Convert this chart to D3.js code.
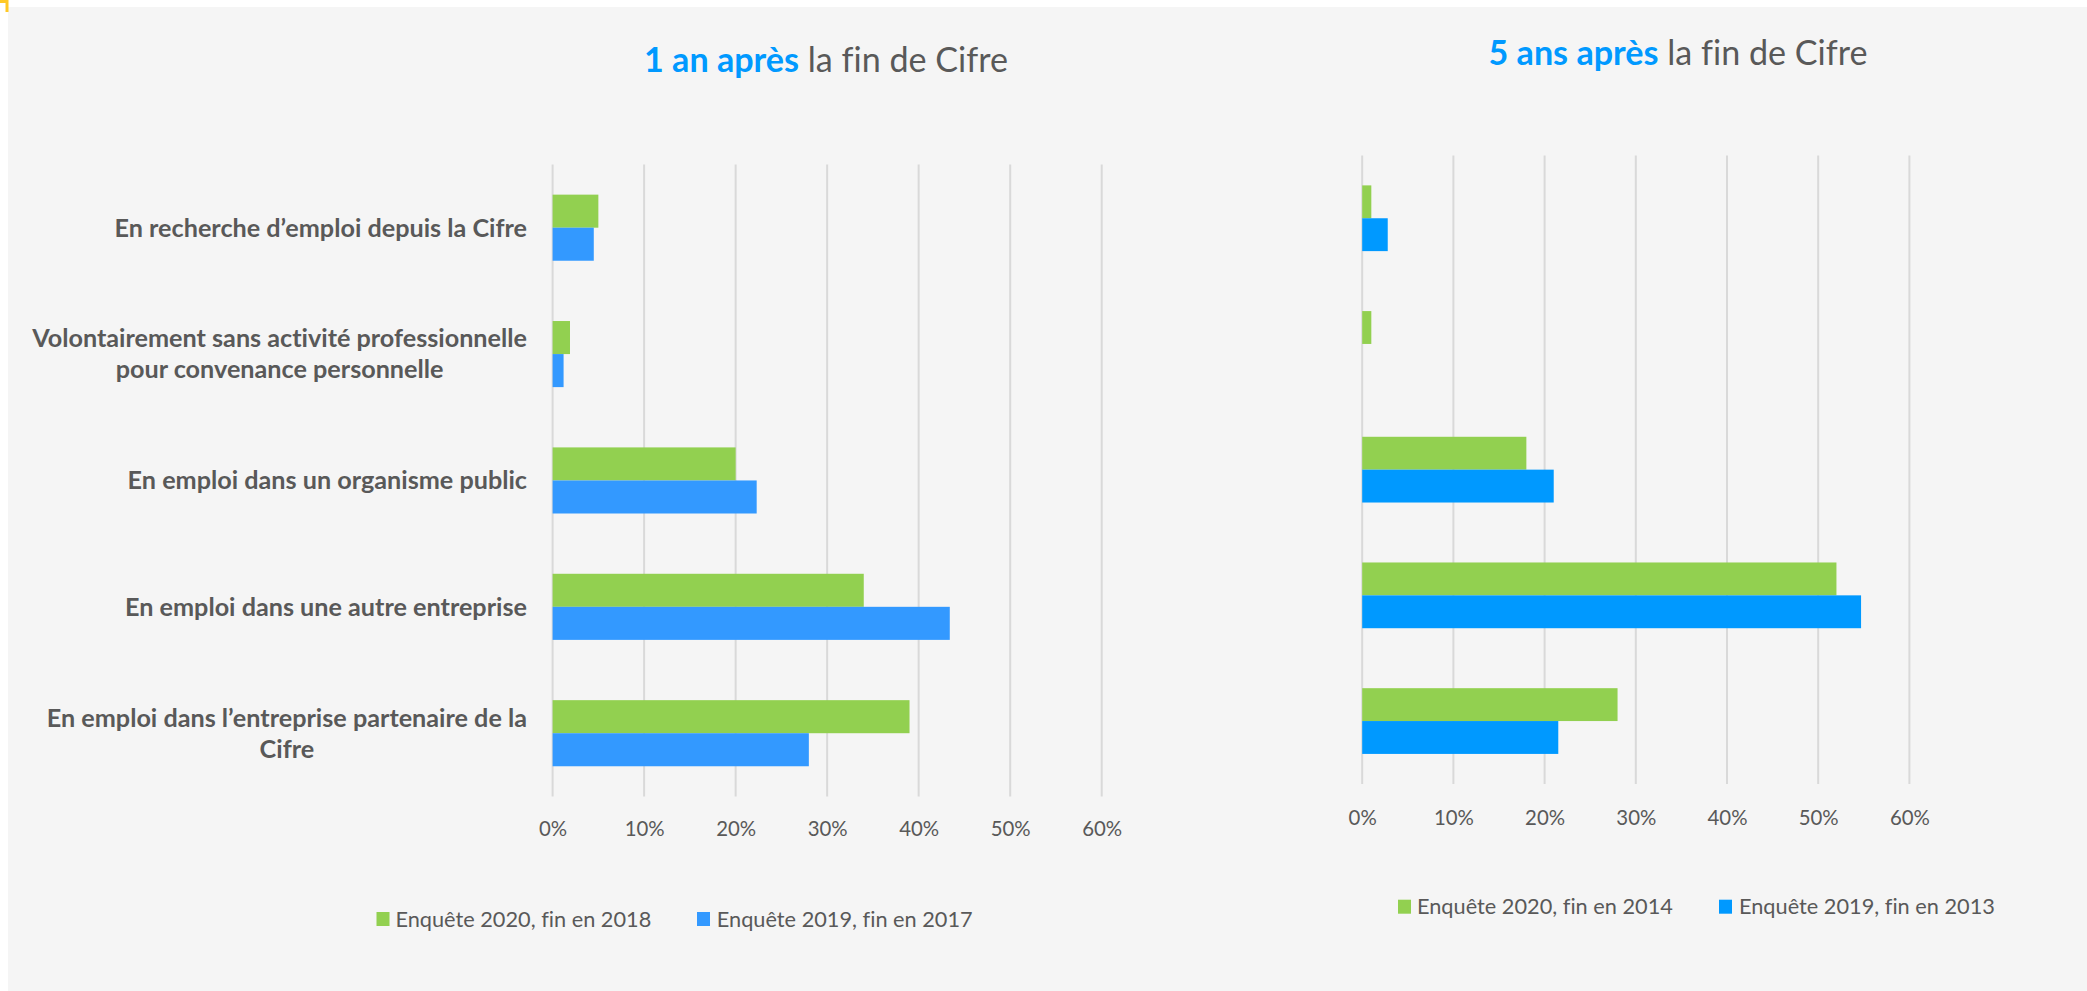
<!DOCTYPE html>
<html>
<head>
<meta charset="utf-8">
<script src="https://cdn.jsdelivr.net/npm/d3@7"></script>
<style>
  html, body { margin: 0; padding: 0; background: #ffffff; }
  svg { display: block; }
  text { font-variant-ligatures: none; font-feature-settings: "liga" 0, "clig" 0; }
</style>
</head>
<body>
<svg id="chart" width="2087" height="991"></svg>
<script>
// ---------------- DATA ----------------
const categories = [
  "En recherche d’emploi depuis la Cifre",
  "Volontairement sans activité professionnelle\npour convenance personnelle",
  "En emploi dans un organisme public",
  "En emploi dans une autre entreprise",
  "En emploi dans l’entreprise partenaire de la\nCifre"
];
// 1 an après (percent)
const oneYear2020 = [5.0, 1.9, 20.0, 34.0, 39.0];
const oneYear2019 = [4.5, 1.2, 22.3, 43.4, 28.0];
// 5 ans après (percent)
const fiveYear2020 = [1.0, 1.0, 18.0, 52.0, 28.0];
const fiveYear2019 = [2.8, 0.0, 21.0, 54.7, 21.5];
const tickValues = [0, 10, 20, 30, 40, 50, 60];
const oneYearSeries = ["Enquête 2020, fin en 2018", "Enquête 2019, fin en 2017"];
const fiveYearSeries = ["Enquête 2020, fin en 2014", "Enquête 2019, fin en 2013"];
const titleLeft = ["1 an après", " la fin de Cifre"];
const titleRight = ["5 ans après", " la fin de Cifre"];

// ---------------- STYLE ----------------
const FONT = "Lato, 'Open Sans', sans-serif";
const GRAY = "#595959";
const GREEN = "#92D050";
const BLUE_L = "#3399FF";
const BLUE_R = "#0099FF";
const TITLE_BLUE = "#0099FF";
const GRID = "#D9D9D9";
const BG = "#F5F5F5";

const svg = d3.select("#chart");

// background
svg.append("rect").attr("x", 8).attr("y", 7).attr("width", 2087 - 8).attr("height", 991 - 7).attr("fill", BG);
svg.append("path").attr("d", "M0,0H8.5V12H5.5V3H0Z").attr("fill", "#FFC926");

function measure(build, size) {
  const t = svg.append("text").attr("font-family", FONT).attr("font-size", size);
  build(t);
  const w = t.node().getComputedTextLength();
  t.remove();
  return w;
}
function fitSize(build, target) {
  return 100 * target / measure(build, 100);
}

const titleBuild = parts => t => {
  t.append("tspan").attr("font-weight", "bold").text(parts[0]);
  t.append("tspan").text(parts[1]);
};
const titleSize = fitSize(titleBuild(titleLeft), 364);
const labelSize = fitSize(t => t.attr("font-weight", "bold").text("Volontairement sans activité professionnelle"), 495);
const tickSize = fitSize(t => t.text("10%"), 40);
const legendSize = fitSize(t => t.text(oneYearSeries[0]), 256);

function drawTitle(parts, x, baseline) {
  const t = svg.append("text").attr("x", x).attr("y", baseline)
    .attr("font-family", FONT).attr("font-size", titleSize).attr("fill", GRAY);
  t.append("tspan").attr("font-weight", "bold").attr("fill", TITLE_BLUE).text(parts[0]);
  t.append("tspan").text(parts[1]);
}

function drawPanel(opts) {
  const { xRange, yRange, s2020, s2019, blue, tickY, showLabels, labelRight } = opts;
  const g = svg.append("g");
  const x = d3.scaleLinear().domain([0, 60]).range(xRange);
  const y = d3.scaleBand().domain(d3.range(categories.length)).range(yRange)
    .paddingInner(0.477).paddingOuter(0.2385);
  const sub = d3.scaleBand().domain([0, 1]).range([0, y.bandwidth()]);

  // gridlines
  g.append("g").selectAll("line").data(tickValues).join("line")
    .attr("x1", d => x(d)).attr("x2", d => x(d))
    .attr("y1", yRange[0]).attr("y2", yRange[1])
    .attr("stroke", GRID).attr("stroke-width", 2);

  // axis tick labels
  const axis = d3.axisBottom(x).tickValues(tickValues).tickFormat(d => d + "%").tickSize(0).tickPadding(0);
  const ax = g.append("g").attr("transform", `translate(0,${tickY})`).call(axis);
  ax.select(".domain").remove();
  ax.selectAll("text").attr("font-family", FONT).attr("font-size", tickSize)
    .attr("fill", GRAY).attr("dy", "0.35em").attr("y", 0);

  // bars
  const series = [{ vals: s2020, color: GREEN }, { vals: s2019, color: blue }];
  series.forEach((s, si) => {
    g.append("g").selectAll("rect").data(s.vals).join("rect")
      .attr("x", x(0))
      .attr("y", (d, i) => y(i) + sub(si))
      .attr("width", d => x(d) - x(0))
      .attr("height", sub.bandwidth())
      .attr("fill", s.color);
  });

  // category labels
  if (showLabels) {
    categories.forEach((c, i) => {
      const lines = c.split("\n");
      const widths = lines.map(l => measure(t => t.attr("font-weight", "bold").text(l), labelSize));
      const maxW = d3.max(widths);
      const cx = labelRight - maxW / 2;
      const cy = y(i) + y.bandwidth() / 2;
      const lh = 31;
      lines.forEach((l, li) => {
        svg.append("text")
          .attr("x", cx)
          .attr("y", cy + (li - (lines.length - 1) / 2) * lh)
          .attr("dy", "0.35em")
          .attr("text-anchor", "middle")
          .attr("font-family", FONT).attr("font-weight", "bold")
          .attr("font-size", labelSize).attr("fill", GRAY)
          .text(l);
      });
    });
  }
}

function drawLegend(names, blue, items, cy) {
  const colors = [GREEN, blue];
  names.forEach((n, i) => {
    svg.append("rect").attr("x", items[i][0]).attr("y", cy - 7).attr("width", 13).attr("height", 14)
      .attr("fill", colors[i]);
    svg.append("text").attr("x", items[i][1]).attr("y", cy).attr("dy", "0.35em")
      .attr("font-family", FONT).attr("font-size", legendSize).attr("fill", GRAY).text(n);
  });
}

drawTitle(titleLeft, 644, 71.5);
drawTitle(titleRight, 1488.5, 65);

drawPanel({
  xRange: [552.6, 1101.7], yRange: [164.5, 796.4],
  s2020: oneYear2020, s2019: oneYear2019, blue: BLUE_L,
  tickY: 828.6, showLabels: true, labelRight: 527
});
drawPanel({
  xRange: [1362.2, 1909.4], yRange: [155.4, 783.9],
  s2020: fiveYear2020, s2019: fiveYear2019, blue: BLUE_R,
  tickY: 817.4, showLabels: false
});

drawLegend(oneYearSeries, BLUE_L, [[376.5, 395.4], [697, 716.8]], 919);
drawLegend(fiveYearSeries, BLUE_R, [[1398, 1417], [1719, 1739]], 906.7);
</script>
</body>
</html>
